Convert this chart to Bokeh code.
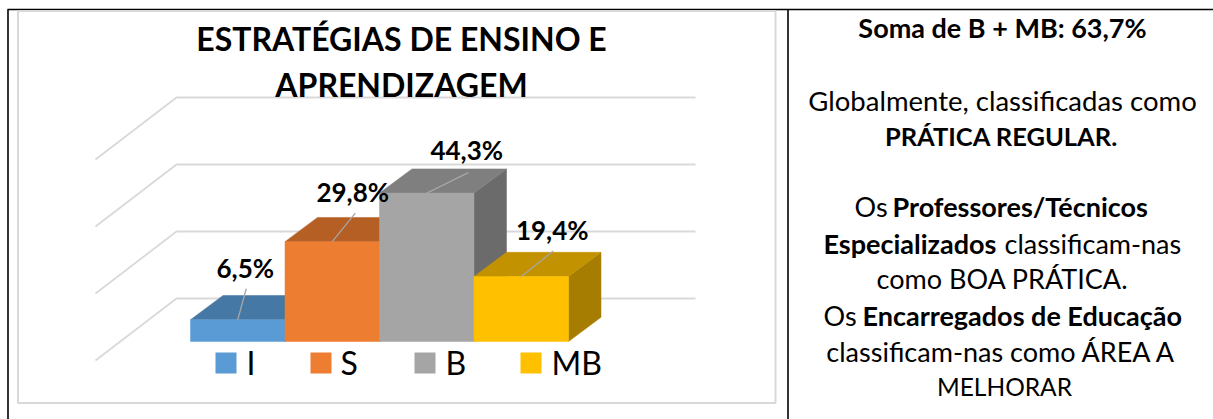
from bokeh.plotting import figure
from bokeh.embed import file_html
from bokeh.resources import INLINE
from bokeh.models import Range1d
from bokeh.core.properties import value

categories = ["I", "S", "B", "MB"]
values = [6.5, 29.8, 44.3, 19.4]
labels = ["6,5%", "29,8%", "44,3%", "19,4%"]
gridlines = [0, 20, 40, 60]
title_lines = ["ESTRATÉGIAS DE ENSINO E", "APRENDIZAGEM"]
# right-hand note: one list of (text, bold) runs per line
note_lines = [
    [("Soma de B + MB: 63,7%", True)],
    [("Globalmente, classificadas como", False)],
    [("PRÁTICA REGULAR.", True)],
    [("Os", False), ("Professores/Técnicos", True)],
    [("Especializados", True), ("classificam-nas", False)],
    [("como BOA PRÁTICA.", False)],
    [("Os", False), ("Encarregados de Educação", True)],
    [("classificam-nas como ÁREA A", False)],
    [("MELHORAR", False)],
]
front_colors = ["#5B9BD5", "#ED7D31", "#A5A5A5", "#FFC000"]
top_colors = ["#4678A5", "#B55F24", "#7F7F7F", "#C29200"]
side_colors = ["#3C6690", "#9E5220", "#6B6B6B", "#A67D00"]

W, H = 1213, 419
PX_PER_UNIT = 94.5     # one category width
PX_PER_PCT = 3.35
X0_PX, Y0_PX = 190.0, 341.0  # where x=0 and value=0 fall in window pixels


def xd(px):
    return (px - X0_PX) / PX_PER_UNIT


def yd(px):
    return (Y0_PX - px) / PX_PER_PCT


p = figure(width=W, height=H, output_backend="svg", toolbar_location=None,
           x_range=Range1d(xd(0), xd(W)), y_range=Range1d(yd(H), yd(0)),
           min_border=0, outline_line_color=None)
p.axis.visible = False
p.grid.visible = False
p.background_fill_color = "white"
p.border_fill_color = "white"

# table lines and chart frame
BLACK = "#000000"
p.line([xd(7), xd(1213)], [yd(9), yd(9)], line_color=BLACK, line_width=1.6)
p.line([xd(7.5), xd(7.5)], [yd(9), yd(419)], line_color=BLACK, line_width=1.6)
p.line([xd(787.5), xd(787.5)], [yd(9), yd(419)], line_color=BLACK, line_width=1.6)
p.quad(left=xd(17.5), right=xd(775), top=yd(10.5), bottom=yd(402.5), fill_color="white",
       line_color="#D9D9D9", line_width=2)

# walls: each gridline runs from the front-left along the side wall, then across the back
WALL_DX = 81 / PX_PER_UNIT
WALL_DY = 62 / PX_PER_PCT
WALL_X0 = xd(95)
WALL_X1 = xd(695)
WALL_BASE = yd(360)
for g in gridlines:
    y = WALL_BASE + g
    p.line([WALL_X0, WALL_X0 + WALL_DX, WALL_X1], [y, y + WALL_DY, y + WALL_DY],
           line_color="#D9D9D9", line_width=1.8)

# 3-D bars
DX = 32.5 / PX_PER_UNIT
DY = 24.2 / PX_PER_PCT
for i, v in enumerate(values):
    p.patch([i + 1, i + 1 + DX, i + 1 + DX, i + 1], [0, DY, v + DY, v],
            fill_color=side_colors[i], line_color=side_colors[i], line_width=0.5)
    p.patch([i, i + DX, i + 1 + DX, i + 1], [v, v + DY, v + DY, v],
            fill_color=top_colors[i], line_color=top_colors[i], line_width=0.5)
    p.quad(left=i, right=i + 1, bottom=0, top=v, fill_color=front_colors[i],
           line_color=front_colors[i], line_width=0.5)

# data label leaders and labels, offsets from each bar's top-centre
lead_dx = [8.5, 23, 41.5, 32]
lead_dy = [31, 28.5, 20.5, 25.5]
label_dx = [7.5, 20.5, 40, 31]
label_dy = [52, 49.5, 43.5, 47]
for i, v in enumerate(values):
    xc = i + 0.5
    p.line([xc, xc + lead_dx[i] / PX_PER_UNIT], [v, v + lead_dy[i] / PX_PER_PCT],
           line_color="#A6A6A6", line_width=1.3)
    p.text([xc + label_dx[i] / PX_PER_UNIT], [v + label_dy[i] / PX_PER_PCT], text=[labels[i]],
           text_font=value("Lato"), text_font_style="bold", text_font_size="26px",
           text_align="center", text_baseline="middle", text_color="#000000")

# legend
leg_sw = [215, 310, 414, 520]
leg_tx = [246, 340, 445, 551]
for i, c in enumerate(categories):
    p.quad(left=xd(leg_sw[i]), right=xd(leg_sw[i] + 21), top=yd(352), bottom=yd(373),
           fill_color=front_colors[i], line_color=None)
    p.text([xd(leg_tx[i])], [yd(362)], text=[c], text_font=value("Lato"), text_font_size="32px",
           text_align="left", text_baseline="middle", text_color="#000000")

# title
for t, ypx in zip(title_lines, [38, 84]):
    p.text([xd(401)], [yd(ypx)], text=[t], text_font=value("Lato"), text_font_style="bold",
           text_font_size="32px", text_align="center", text_baseline="middle", text_color="#000000")

# right-hand note: runs of a mixed line are placed from a shared split position
note_y = [27, 100, 135, 206, 243, 278, 315, 351, 386]
note_x = [[1002], [1002], [1001], [854, 892], [823, 1004], [1002], [823, 862], [1001], [1004]]
note_size = [27, 27.5, 25.5, 27, 27, 27, 27, 27, 24.5]
for runs, ypx, xs, size in zip(note_lines, note_y, note_x, note_size):
    for (t, bold), xpx in zip(runs, xs):
        p.text([xd(xpx)], [yd(ypx)], text=[t], text_font=value("Lato"),
               text_font_style="bold" if bold else "normal", text_font_size=f"{size}px",
               text_align="center" if len(runs) == 1 else "left", text_baseline="middle",
               text_color="#000000")

open("out.html", "w").write(file_html(p, INLINE))
